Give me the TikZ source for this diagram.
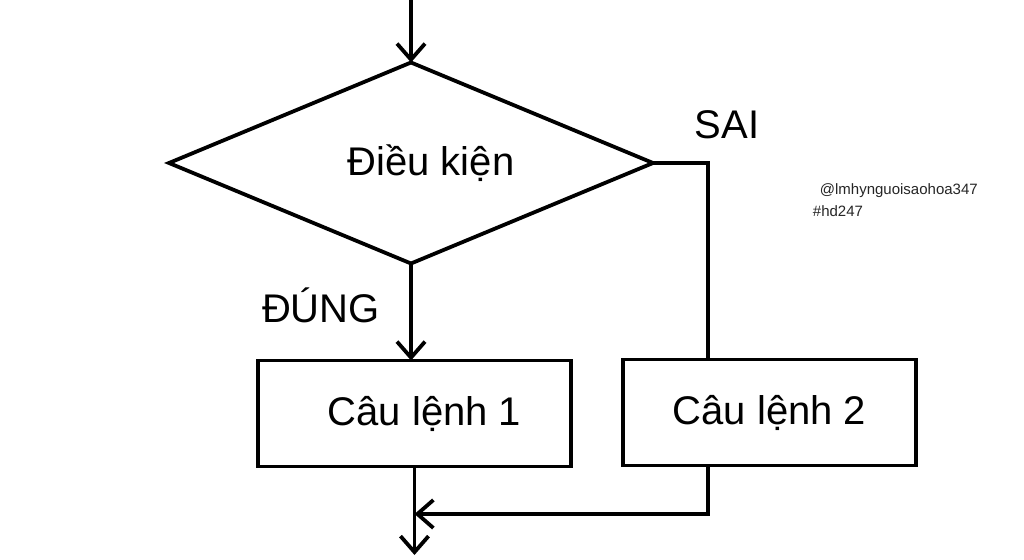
\documentclass[tikz,border=0pt]{standalone}
\usepackage{fontspec}
\setmainfont{Liberation Sans}
\usetikzlibrary{positioning, arrows.meta, shapes.geometric}

\begin{document}
\begin{tikzpicture}[
    x=1pt, y=1pt,
    line width=3.8pt,
    dieukien/.style={
        diamond,
        shape aspect=2.4,
        draw=black,
        minimum width=484pt,
        minimum height=201pt,
        inner sep=0pt,
        outer sep=0pt,
        font=\fontsize{40}{46}\selectfont
    },
    caulenh/.style={
        rectangle,
        draw=black,
        minimum height=106pt,
        inner sep=0pt,
        outer sep=0pt,
        font=\fontsize{40}{46}\selectfont
    },
    nhan/.style={
        font=\fontsize{40}{46}\selectfont
    },
    ghichu/.style={
        anchor=west,
        inner sep=0pt,
        text=black!85,
        font=\fontsize{15}{17}\selectfont
    },
    muiten/.style={
        -{Straight Barb[length=16pt,width=28pt]}
    }
]

\useasboundingbox[fill=white] (0,0) rectangle (1024,559);

\node[dieukien] (dk) at (411,396) {\hspace*{40pt}Điều kiện};
\node[caulenh, minimum width=313pt] (cl1) at (414.5,145.5) {\hspace*{20pt}Câu lệnh 1};
\node[caulenh, minimum width=293pt] (cl2) at (769.5,146.5) {Câu lệnh 2};

\coordinate (vao) at (411,559);
\coordinate (ra) at (414.5,4);
\coordinate (gop) at (414.5,45);

\node[nhan] (sai) at (727,434) {SAI};
\node[nhan] (dung) at (321,254) {ĐÚNG};
\node[ghichu] (tk) at (818,368) {@lmhynguoisaohoa347};
\node[ghichu] (tag) at (811,348) {\#hd247};

\draw[muiten] (vao) -- (dk.north);
\draw[muiten] (dk.south) -- (dk.south |- cl1.north);
\draw (dk.east) -| (708,0 |- cl2.north);
\draw[muiten] (cl1.south) -- (ra);
\draw[muiten, line join=miter] (708,0 |- cl2.south) |- (gop);

\end{tikzpicture}
\end{document}
